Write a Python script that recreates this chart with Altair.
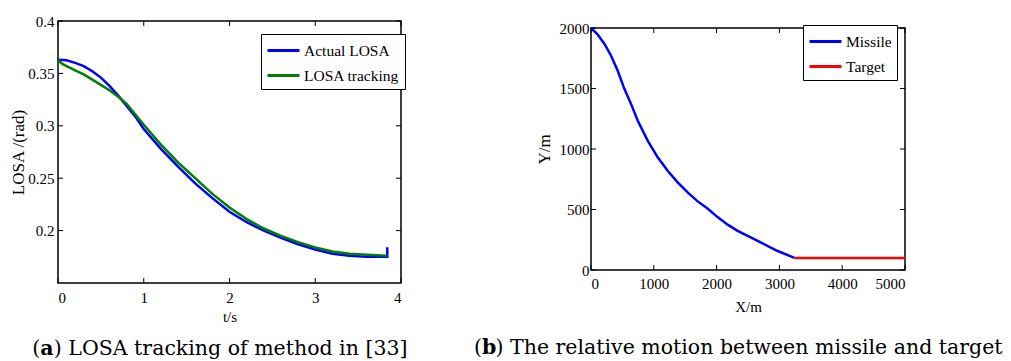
import altair as alt
import pandas as pd

# ---------------- data ----------------
t_actual = [0, 0.1, 0.2, 0.3, 0.4, 0.5, 0.6, 0.7, 0.8, 0.9, 1.0, 1.2, 1.4, 1.6, 1.8,
            2.0, 2.2, 2.4, 2.6, 2.8, 3.0, 3.2, 3.4, 3.6, 3.84, 3.84]
v_actual = [0.363, 0.3625, 0.360, 0.357, 0.352, 0.346, 0.338, 0.329, 0.319, 0.309, 0.297,
            0.278, 0.261, 0.245, 0.231, 0.218, 0.208, 0.200, 0.193, 0.187, 0.182, 0.178,
            0.176, 0.175, 0.175, 0.184]
t_track = [0, 0.05, 0.1, 0.2, 0.3, 0.4, 0.5, 0.6, 0.7, 0.8, 0.9, 1.0, 1.2, 1.4, 1.6, 1.8,
           2.0, 2.2, 2.4, 2.6, 2.8, 3.0, 3.2, 3.4, 3.6, 3.84]
v_track = [0.363, 0.359, 0.357, 0.353, 0.349, 0.344, 0.339, 0.334, 0.328, 0.321, 0.311,
           0.301, 0.282, 0.265, 0.250, 0.235, 0.222, 0.211, 0.202, 0.195, 0.189, 0.184,
           0.180, 0.178, 0.177, 0.176]
series_a = ["Actual LOSA", "LOSA tracking"]
colors_a = ["#0000ff", "#008000"]
xticks_a = [0, 1, 2, 3, 4]
yticks_a = [0.2, 0.25, 0.3, 0.35, 0.4]

x_missile = [0, 100, 212, 318, 424, 531, 637, 743, 902, 1062, 1221, 1380, 1539, 1699,
             1850, 2016, 2175, 2335, 2654, 2973, 3239]
y_missile = [2000, 1950, 1870, 1773, 1649, 1497, 1373, 1235, 1069, 931, 820, 724, 641, 567,
             510, 437, 375, 323, 240, 157, 100]
x_target = [3239, 5000]
y_target = [100, 100]
series_b = ["Missile", "Target"]
colors_b = ["#0000ff", "#ff0000"]
xticks_b = [0, 1000, 2000, 3000, 4000, 5000]
yticks_b = [0, 500, 1000, 1500, 2000]

caption_a = ["(", "a", ") LOSA tracking of method in [33]"]
caption_b = ["(", "b", ") The relative motion between missile and target"]

SERIF = "Liberation Serif, Times New Roman, serif"
CAP = "DejaVu Serif"
CAPSIZE = 20.5
LEG_SYMBOL = "M-1,0H2.2"   # legend line sample, 32 px long at symbolSize 400

W1, H1 = 343, 262
W2, H2 = 314, 242


def tick_layers(xvals, yvals, xs, ys, xaxis, yaxis, W, H, L=5):
    dx = pd.DataFrame({"x": xvals})
    dy = pd.DataFrame({"y": yvals})
    base_x = alt.Chart(dx).mark_rule(color="black", strokeWidth=1)
    base_y = alt.Chart(dy).mark_rule(color="black", strokeWidth=1)
    X = alt.X("x:Q", scale=xs, axis=xaxis)
    Y = alt.Y("y:Q", scale=ys, axis=yaxis)
    return [
        base_x.encode(x=X, y=alt.value(H), y2=alt.value(H - L)),
        base_x.encode(x=X, y=alt.value(0), y2=alt.value(L)),
        base_y.encode(y=Y, x=alt.value(0), x2=alt.value(L)),
        base_y.encode(y=Y, x=alt.value(W), x2=alt.value(W - L)),
    ]


def caption_layers(parts, x0, y0):
    w_paren = 0.39 * CAPSIZE
    w_bold = 0.66 * CAPSIZE
    xs = [x0, x0 + w_paren, x0 + w_paren + w_bold]
    weights = ["normal", "bold", "normal"]
    out = []
    for p, xx, fw in zip(parts, xs, weights):
        out.append(
            alt.Chart(pd.DataFrame({"c": [p]})).mark_text(
                font=CAP, fontSize=CAPSIZE, fontWeight=fw, align="left",
                baseline="alphabetic", color="black"
            ).encode(text="c:N", x=alt.value(xx), y=alt.value(y0))
        )
    return out


def legend(lx, ly):
    return alt.Legend(orient="none", legendX=lx, legendY=ly, title=None,
                      strokeColor="black", fillColor="white", padding=5,
                      symbolType=LEG_SYMBOL, symbolSize=400, symbolStrokeWidth=3,
                      labelFont=SERIF, labelFontSize=15.5, labelColor="black",
                      rowPadding=5, labelOffset=15)


# ---------------- chart (a) ----------------
df_a = pd.concat([
    pd.DataFrame({"t": t_actual, "v": v_actual, "s": series_a[0], "i": range(len(t_actual))}),
    pd.DataFrame({"t": t_track, "v": v_track, "s": series_a[1], "i": range(len(t_track))}),
])
xs_a = alt.Scale(domain=[0, 4], nice=False, zero=False)
ys_a = alt.Scale(domain=[0.15, 0.4], nice=False, zero=False)
xaxis_a = alt.Axis(values=xticks_a, format="d", title="t/s", grid=False, ticks=False,
                   tickSize=0, domain=False, labelPadding=7, titlePadding=4)
yaxis_a = alt.Axis(values=yticks_a, format=".2~f", title="LOSA /(rad)", grid=False,
                   ticks=False, tickSize=0, domain=False, labelPadding=4, titlePadding=0,
                   titleFontSize=17)

lines_a = alt.Chart(df_a).mark_line(strokeWidth=2.5).encode(
    x=alt.X("t:Q", scale=xs_a, axis=xaxis_a),
    y=alt.Y("v:Q", scale=ys_a, axis=yaxis_a),
    color=alt.Color("s:N", scale=alt.Scale(domain=series_a, range=colors_a),
                    legend=legend(203, 13)),
    order=alt.Order("i:Q"),
)

chart_a = alt.layer(
    lines_a,
    *tick_layers(xticks_a, yticks_a, xs_a, ys_a, xaxis_a, yaxis_a, W1, H1),
    *caption_layers(caption_a, -25.7, 334),
).properties(width=W1, height=H1)

# ---------------- chart (b) ----------------
df_b = pd.concat([
    pd.DataFrame({"x": x_missile, "y": y_missile, "s": series_b[0], "i": range(len(x_missile))}),
    pd.DataFrame({"x": x_target, "y": y_target, "s": series_b[1], "i": range(len(x_target))}),
])
xs_b = alt.Scale(domain=[0, 5000], nice=False, zero=False)
ys_b = alt.Scale(domain=[0, 2000], nice=False, zero=False)
xaxis_b = alt.Axis(values=xticks_b, format="d", title="X/m", grid=False, ticks=False,
                   tickSize=0, domain=False, labelPadding=6, titlePadding=8)
yaxis_b = alt.Axis(values=yticks_b, format="d", title="Y/m", grid=False, ticks=False,
                   tickSize=0, domain=False, labelPadding=2, titlePadding=6,
                   titleFontSize=17)

lines_b = alt.Chart(df_b).mark_line(strokeWidth=2.5).encode(
    x=alt.X("x:Q", scale=xs_b, axis=xaxis_b),
    y=alt.Y("y:Q", scale=ys_b, axis=yaxis_b),
    color=alt.Color("s:N", scale=alt.Scale(domain=series_b, range=colors_b),
                    legend=legend(212, 4)),
    order=alt.Order("i:Q"),
)

chart_b = alt.layer(
    lines_b,
    *tick_layers(xticks_b, yticks_b, xs_b, ys_b, xaxis_b, yaxis_b, W2, H2),
    *caption_layers(caption_b, -117, 326),
).properties(width=W2, height=H2)

# small invisible spacer so panel (b) sits a little lower than panel (a)
spacer = alt.Chart(pd.DataFrame({"a": [0]})).mark_point(opacity=0).encode(
    x=alt.value(0), y=alt.value(0)
).properties(width=W2, height=1, view=alt.ViewBackground(stroke="transparent"))

right_col = alt.vconcat(spacer, chart_b, spacing=-5)

chart = alt.hconcat(chart_a, right_col, spacing=64).resolve_scale(
    color="independent"
).resolve_legend(
    color="independent"
).properties(
    padding={"left": 9, "top": 13, "right": 0, "bottom": 0}
).configure_view(
    stroke="black", strokeWidth=1.5
).configure_axis(
    labelFont=SERIF, labelFontSize=15, labelColor="black",
    titleFont=SERIF, titleFontSize=15, titleColor="black", titleFontWeight="normal",
)

chart.save("out.html", embed_options={"renderer": "svg", "actions": False})
